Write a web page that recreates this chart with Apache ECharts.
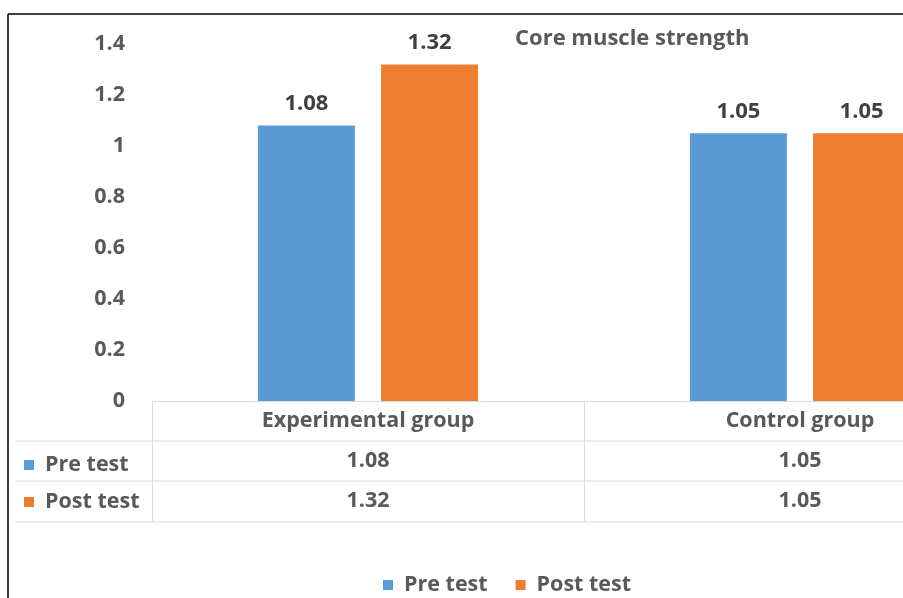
<!DOCTYPE html>
<html>
<head>
<meta charset="utf-8">
<script src="https://cdn.jsdelivr.net/npm/echarts@6/dist/echarts.min.js"></script>
<style>
  html, body { margin: 0; padding: 0; background: #fff; }
  #chart { width: 903px; height: 598px; }
</style>
</head>
<body>
<div id="chart"></div>
<script>
var categories = ['Experimental group', 'Control group'];
var preTest = [1.08, 1.05];
var postTest = [1.32, 1.05];
var seriesNames = ['Pre test', 'Post test'];

var FONT = '"Open Sans", sans-serif';
var gray = '#595959';
var lineGray = '#dcdcdc';
var SIZE = 21.5;

var myChart = echarts.init(document.getElementById('chart'));

var option = {
    animation: false,
    color: ['#5B9BD5', '#ED7D31'],
    title: {
        text: 'Core muscle strength',
        left: 510,
        top: 23,
        textStyle: { fontFamily: FONT, fontSize: 22, fontWeight: 'bold', color: gray }
    },
    legend: [
        {
            data: seriesNames,
            left: 378,
            top: 569,
            icon: 'rect',
            itemWidth: 10,
            itemHeight: 10,
            itemGap: 28,
            textStyle: { fontFamily: FONT, fontSize: SIZE, fontWeight: 'bold', color: gray, padding: [0, 0, 0, 6] }
        },
        {
            // row headers of the data table
            data: seriesNames,
            orient: 'vertical',
            left: 19,
            top: 449,
            icon: 'rect',
            itemWidth: 10,
            itemHeight: 10,
            itemGap: 15,
            textStyle: { fontFamily: FONT, fontSize: SIZE, fontWeight: 'bold', color: gray, padding: [0, 0, 0, 6] }
        }
    ],
    grid: { left: 152, top: 44, right: -113, bottom: 197, outerBoundsMode: 'none' },
    xAxis: {
        type: 'category',
        data: categories,
        axisLine: { lineStyle: { color: lineGray } },
        axisTick: { show: true, length: 120, lineStyle: { color: lineGray } },
        axisLabel: {
            margin: 0,
            interval: 0,
            formatter: function(val, idx) {
                return '{h|' + val + '}\n{v|' + preTest[idx] + '}\n{v|' + postTest[idx] + '}';
            },
            rich: {
                h: { fontFamily: FONT, fontSize: SIZE, fontWeight: 'bold', color: gray, lineHeight: 40 },
                v: { fontFamily: FONT, fontSize: SIZE, fontWeight: 'bold', color: gray, lineHeight: 40 }
            }
        }
    },
    yAxis: {
        type: 'value',
        min: 0,
        max: 1.4,
        interval: 0.2,
        splitLine: { show: false },
        axisLine: { show: false },
        axisLabel: {
            margin: 27,
            fontFamily: FONT, fontSize: SIZE, fontWeight: 'bold', color: gray
        }
    },
    series: [
        {
            name: seriesNames[0],
            type: 'bar',
            data: preTest,
            barWidth: 97,
            barGap: '27%',
            label: {
                show: true, position: 'top', distance: 11,
                fontFamily: FONT, fontSize: 22, fontWeight: 'bold', color: '#404040'
            }
        },
        {
            name: seriesNames[1],
            type: 'bar',
            data: postTest,
            barWidth: 97,
            label: {
                show: true, position: 'top', distance: 11,
                fontFamily: FONT, fontSize: 22, fontWeight: 'bold', color: '#404040'
            }
        }
    ],
    graphic: [
        // frame
        { type: 'line', shape: { x1: 8, y1: 14, x2: 903, y2: 14 }, style: { stroke: '#000', lineWidth: 1.5 } },
        { type: 'line', shape: { x1: 8, y1: 14, x2: 8, y2: 598 }, style: { stroke: '#000', lineWidth: 1.5 } },
        // table rows
        { type: 'line', shape: { x1: 15, y1: 441, x2: 903, y2: 441 }, style: { stroke: lineGray, lineWidth: 1 } },
        { type: 'line', shape: { x1: 15, y1: 481, x2: 903, y2: 481 }, style: { stroke: lineGray, lineWidth: 1 } },
        { type: 'line', shape: { x1: 15, y1: 522, x2: 903, y2: 522 }, style: { stroke: lineGray, lineWidth: 1 } }
    ]
};
myChart.setOption(option);
</script>
</body>
</html>
